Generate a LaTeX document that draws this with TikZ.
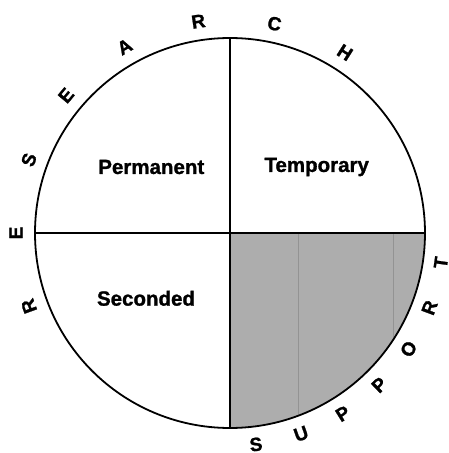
\documentclass[tikz,border=0pt]{standalone}
\usepackage{fontspec}
\setmainfont{Liberation Sans}
\newfontfamily\heavyfont[FakeBold=1.2]{Liberation Sans Bold}
\begin{document}
\begin{tikzpicture}[x=1pt,y=1pt,
  ring/.style={font=\heavyfont\fontsize{19}{21}\selectfont, inner sep=0pt},
  label/.style={font=\heavyfont\fontsize{20.5}{24}\selectfont, inner sep=0pt},
  divider/.style={line width=1.6pt},
]
\useasboundingbox (-230,-220) rectangle (218,233);
\node[circle, minimum size=390pt, inner sep=0pt] (c) at (0,0) {};
% shaded quadrant
\fill[gray!64] (c.center) -- (c.east) arc (0:-90:195) -- cycle;
\begin{scope}
  \clip (c.center) -- (c.east) arc (0:-90:195) -- cycle;
  \draw[gray!85, line width=0.5pt] (68,0) -- (68,-200);
  \draw[gray!85, line width=0.5pt] (163,0) -- (163,-200);
\end{scope}
\draw[line width=1.8pt] (c) circle (195);
\draw[divider] (c.north) -- (c.south);
\draw[divider] (c.west) -- (c.east);
% quadrant labels
\node[label] (perm) at (-78.7,66) {Permanent};
\node[label] (temp) at (86.7,66) {Temporary};
\node[label] (sec) at (-84,-65.3) {Seconded};
% RESEARCH
\foreach \ch/\a [count=\i] in {R/200,E/180,S/160,E/140,A/119.5,R/98.5,C/78,H/57.5}{
  \node[ring, rotate=\a-90] (r\i) at (\a:214) {\ch};
}
% SUPPORT
\foreach \ch/\a [count=\i] in {S/-83,U/-70.5,P/-58,P/-45.5,O/-33,R/-20.5,T/-8}{
  \node[ring, rotate=\a+90] (s\i) at (\a:213) {\ch};
}
\end{tikzpicture}
\end{document}
